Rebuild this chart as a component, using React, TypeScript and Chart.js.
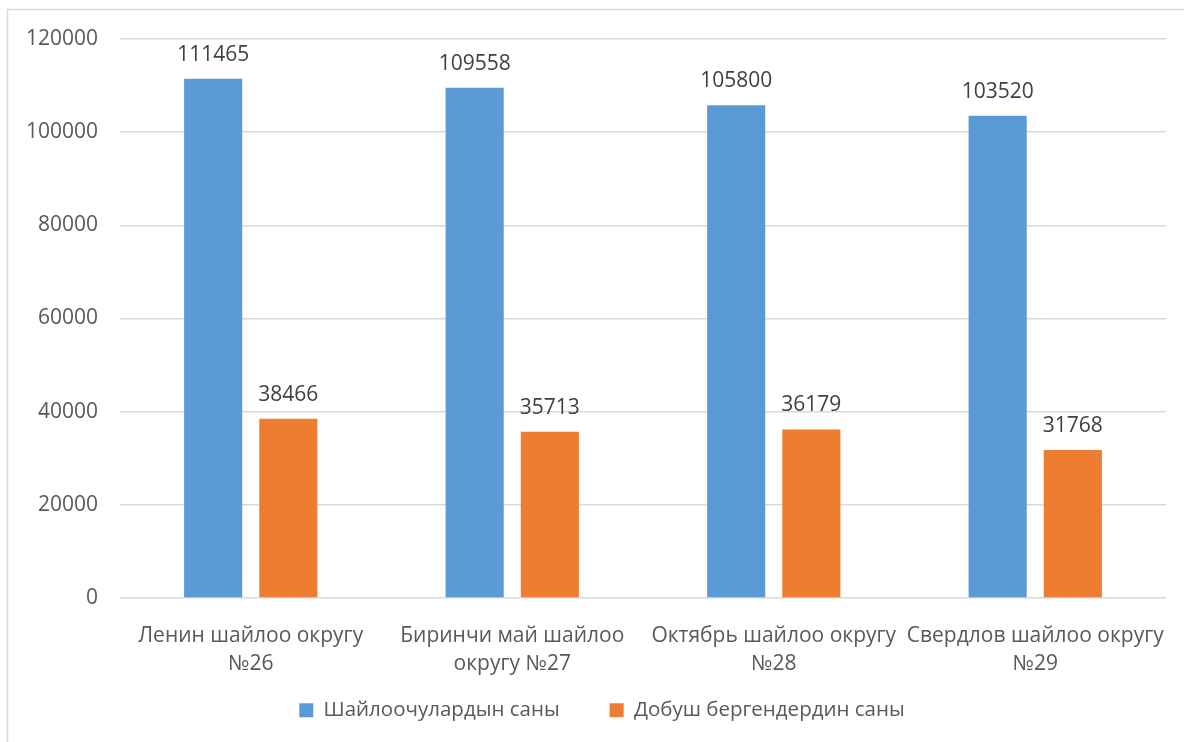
import React, { useEffect, useRef } from "react";
import { Chart, registerables } from "chart.js";

Chart.register(...registerables);

const categories: string[][] = [
  ["Ленин шайлоо округу", "№26"],
  ["Биринчи май шайлоо", "округу №27"],
  ["Октябрь шайлоо округу", "№28"],
  ["Свердлов шайлоо округу", "№29"],
];
const seriesNames = ["Шайлоочулардын саны", "Добуш бергендердин саны"];
const voters = [111465, 109558, 105800, 103520];
const votedCount = [38466, 35713, 36179, 31768];
const yMin = 0;
const yMax = 120000;
const yStep = 20000;

const FONT = "'Open Sans', 'Noto Sans', sans-serif";

const borderPlugin = {
  id: "outerBorder",
  beforeDraw(chart: any) {
    const ctx = chart.ctx;
    ctx.save();
    ctx.strokeStyle = "#d9d9d9";
    ctx.lineWidth = 1.5;
    ctx.beginPath();
    ctx.moveTo(7.5, chart.height + 2);
    ctx.lineTo(7.5, 9.5);
    ctx.lineTo(chart.width + 2, 9.5);
    ctx.stroke();
    ctx.restore();
  },
};

const legendPlacePlugin = {
  id: "legendPlace",
  afterLayout(chart: any) {
    const lg = chart.legend;
    if (!lg) return;
    lg.top = 650;
    lg.bottom = chart.height;
    lg.height = lg.bottom - lg.top;
    lg.left += 38;
    lg.width = lg.right - lg.left;
  },
};

const labelPlugin = {
  id: "valueLabels",
  afterDatasetsDraw(chart: any) {
    const ctx = chart.ctx;
    ctx.save();
    ctx.font = `21px ${FONT}`;
    ctx.fillStyle = "#404040";
    ctx.textAlign = "center";
    ctx.textBaseline = "alphabetic";
    chart.data.datasets.forEach((ds: any, i: number) => {
      const meta = chart.getDatasetMeta(i);
      meta.data.forEach((el: any, j: number) => {
        ctx.fillText(String(ds.data[j]), el.x, el.y - 18);
      });
    });
    ctx.restore();
  },
};

export default function App() {
  const ref = useRef<HTMLCanvasElement>(null);
  useEffect(() => {
    if (!ref.current) return;
    const chart = new Chart(ref.current, {
      type: "bar",
      data: {
        labels: categories,
        datasets: [
          {
            label: seriesNames[0],
            data: voters,
            backgroundColor: "#5B9BD5",
            categoryPercentage: 0.575,
            barPercentage: 0.773,
          },
          {
            label: seriesNames[1],
            data: votedCount,
            backgroundColor: "#ED7D31",
            categoryPercentage: 0.575,
            barPercentage: 0.773,
          },
        ],
      },
      options: {
        animation: false,
        responsive: false,
        devicePixelRatio: 1,
        layout: { padding: { left: 0, right: 18, top: 39, bottom: 0 } },
        scales: {
          x: {
            grid: { display: false },
            border: { display: false },
            ticks: {
              color: "#595959",
              font: { family: FONT, size: 21, lineHeight: "28px" } as any,
              padding: 16,
              maxRotation: 0,
              autoSkip: false,
            },
            afterFit(scale: any) {
              scale.height = 104;
            },
          },
          y: {
            min: yMin,
            max: yMax,
            grid: { color: "#d9d9d9", lineWidth: 1.5, drawTicks: false },
            border: { display: false },
            ticks: {
              stepSize: yStep,
              color: "#595959",
              font: { family: FONT, size: 21 },
              padding: 22,
              callback: (v: any) => String(v),
            },
            afterFit(scale: any) {
              scale.width = 120;
            },
          },
        },
        plugins: {
          legend: {
            position: "bottom",
            maxHeight: 40,
            labels: {
              boxWidth: 14,
              boxHeight: 14,
              color: "#595959",
              font: { family: FONT, size: 20.5 },
              padding: 50,
            },
          },
          tooltip: { enabled: false },
        },
      },
      plugins: [borderPlugin, legendPlacePlugin, labelPlugin],
    });
    return () => chart.destroy();
  }, []);
  return (
    <div style={{ position: "fixed", left: 0, top: 0, width: 1184, height: 742, background: "#fff" }}>
      <canvas ref={ref} width={1184} height={742} style={{ display: "block" }} />
    </div>
  );
}
